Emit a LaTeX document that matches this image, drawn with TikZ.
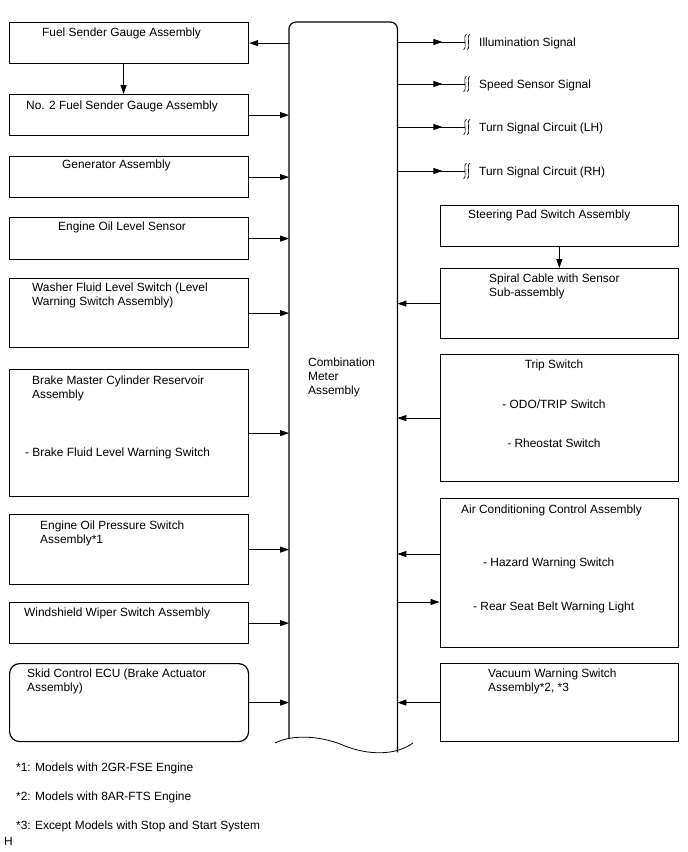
\documentclass[tikz,border=0pt]{standalone}
\usepackage{fontspec}
\setmainfont{Liberation Sans}
\usetikzlibrary{arrows.meta}
\begin{document}
\begin{tikzpicture}[x=1pt,y=-1pt,
  box/.style={draw=black, line width=1.2pt, inner sep=0pt, anchor=north west},
  lbox/.style={box, minimum width=239pt},
  rbox/.style={box, minimum width=238.5pt},
  txt/.style={inner sep=0pt, anchor=base west, font=\fontsize{11.9}{14}\selectfont},
  ctxt/.style={txt, anchor=base},
  arr/.style={line width=0.9pt, -{Triangle[length=9pt,width=6pt]}},
  con/.style={line width=0.9pt},
  squig/.pic={
    \draw[line width=0.7pt] (1.5,-7.5) .. controls (-2.5,-7.5) and (2.5,7.5) .. (-1.5,7.5);
    \draw[line width=0.7pt] (5,-7.5) .. controls (1,-7.5) and (6,7.5) .. (2,7.5);
  }
]
\fill[white] (0,0) rectangle (688,852);
\useasboundingbox (0,0) rectangle (688,852);

% center box
\node[inner sep=0pt, minimum width=108pt, minimum height=716pt, anchor=north west] (meter) at (289,22) {};
\draw[line width=1.2pt, rounded corners=7pt] (meter.south west) -- (meter.north west) -- (meter.north east) -- ([yshift=-14pt]meter.south east);
\draw[line width=0.8pt] (275,743) .. controls (295,733) and (325,737) .. (345,746) .. controls (368,755) and (395,756) .. (413,743);
\node[txt] (m1) at (308,366) {Combination};
\node[txt] (m2) at (308,380) {Meter};
\node[txt] (m3) at (308,394) {Assembly};

% left boxes
\node[lbox, minimum height=41pt] (fuel) at (9,22) {};
\node[txt] (fuelT) at (42,36) {Fuel Sender Gauge Assembly};
\node[lbox, minimum height=41pt] (no2) at (9,94) {};
\node[txt] (no2T) at (26,109) {No. 2 Fuel Sender Gauge Assembly};
\node[lbox, minimum height=41pt] (gen) at (9,156) {};
\node[txt] (genT) at (62,168) {Generator Assembly};
\node[lbox, minimum height=42pt] (oill) at (9,217) {};
\node[txt] (oillT) at (58,230) {Engine Oil Level Sensor};
\node[lbox, minimum height=69pt] (wash) at (9,278) {};
\node[txt] (washT1) at (32,291) {Washer Fluid Level Switch (Level};
\node[txt] (washT2) at (32,305) {Warning Switch Assembly)};
\node[lbox, minimum height=127pt] (brake) at (9,369) {};
\node[txt] (brakeT1) at (32,384) {Brake Master Cylinder Reservoir};
\node[txt] (brakeT2) at (32,398) {Assembly};
\node[txt] (brakeT3) at (25,456) {- Brake Fluid Level Warning Switch};
\node[lbox, minimum height=70pt] (oilp) at (9,514) {};
\node[txt] (oilpT1) at (40,529) {Engine Oil Pressure Switch};
\node[txt] (oilpT2) at (40,543) {Assembly*1};
\node[lbox, minimum height=41pt] (wiper) at (9,602) {};
\node[txt] (wiperT) at (24,616) {Windshield Wiper Switch Assembly};
\node[lbox, minimum height=78pt, rounded corners=10pt] (skid) at (9,663) {};
\node[txt] (skidT1) at (27,677) {Skid Control ECU (Brake Actuator};
\node[txt] (skidT2) at (27,691) {Assembly)};

% left connectors
\draw[arr] ([xshift=-5.5pt]fuel.south) -- ([xshift=-5.5pt]no2.north);
\draw[arr] (meter.west |- fuel.east) -- (fuel.east);
\draw[arr] (no2.east) -- (meter.west |- no2.east);
\draw[arr] (gen.east) -- (meter.west |- gen.east);
\draw[arr] (oill.east) -- (meter.west |- oill.east);
\draw[arr] (wash.east) -- (meter.west |- wash.east);
\draw[arr] (brake.east) -- (meter.west |- brake.east);
\draw[arr] (oilp.east) -- (meter.west |- oilp.east);
\draw[arr] (wiper.east) -- (meter.west |- wiper.east);
\draw[arr] (skid.east) -- (meter.west |- skid.east);

% signals
\coordinate (s1) at (465,42);
\coordinate (s2) at (465,84);
\coordinate (s3) at (465,127);
\coordinate (s4) at (465,171);
\foreach \s in {s1,s2,s3,s4}{
  \draw[con] (meter.east |- \s) -- (\s);
  \draw[arr] (meter.east |- \s) -- ++(45,0);
  \pic at (\s) {squig};
}
\node[txt] (sig1) at (479,46) {Illumination Signal};
\node[txt] (sig2) at (479,88) {Speed Sensor Signal};
\node[txt] (sig3) at (479,131) {Turn Signal Circuit (LH)};
\node[txt] (sig4) at (479,175) {Turn Signal Circuit (RH)};

% right boxes
\node[rbox, minimum height=41pt] (steer) at (439.5,205) {};
\node[txt] (steerT) at (468,218) {Steering Pad Switch Assembly};
\node[rbox, minimum height=70pt] (spiral) at (439.5,268) {};
\node[txt] (spiralT1) at (489,282) {Spiral Cable with Sensor};
\node[txt] (spiralT2) at (489,296) {Sub-assembly};
\node[rbox, minimum height=127pt] (trip) at (439.5,354) {};
\node[ctxt] (tripT1) at (554,368) {Trip Switch};
\node[ctxt] (tripT2) at (554,408) {- ODO/TRIP Switch};
\node[ctxt] (tripT3) at (554,447) {- Rheostat Switch};
\node[rbox, minimum height=149pt] (ac) at (439.5,498) {};
\node[ctxt] (acT1) at (551.5,513) {Air Conditioning Control Assembly};
\node[txt] (acT2) at (483,566) {- Hazard Warning Switch};
\node[txt] (acT3) at (473,610) {- Rear Seat Belt Warning Light};
\node[rbox, minimum height=78pt] (vac) at (439.5,663) {};
\node[txt] (vacT1) at (488,677) {Vacuum Warning Switch};
\node[txt] (vacT2) at (488,691) {Assembly*2, *3};

% right connectors
\coordinate (acA) at (ac.west |- 0,554);
\coordinate (acB) at (ac.west |- 0,602);
\draw[arr] (steer.south) -- (spiral.north);
\draw[arr] (spiral.west) -- (meter.east |- spiral.west);
\draw[arr] (trip.west) -- (meter.east |- trip.west);
\draw[arr] (acA) -- (meter.east |- acA);
\draw[arr] (meter.east |- acB) -- (acB);
\draw[arr] (vac.west) -- (meter.east |- vac.west);

% footnotes
\node[txt] (f1) at (16,771) {*1: Models with 2GR-FSE Engine};
\node[txt] (f2) at (16,800) {*2: Models with 8AR-FTS Engine};
\node[txt] (f3) at (16,829) {*3: Except Models with Stop and Start System};
\node[txt] (fh) at (4,845) {H};
\end{tikzpicture}
\end{document}
